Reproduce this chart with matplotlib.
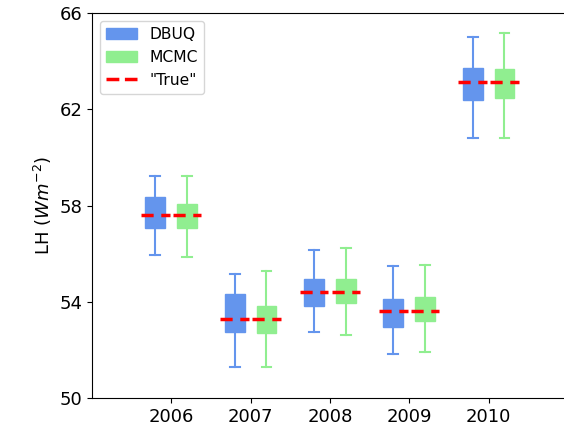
import matplotlib
matplotlib.use('Agg')
import matplotlib.pyplot as plt
from matplotlib.patches import Patch
from matplotlib.lines import Line2D

# Values
years = [2006, 2007, 2008, 2009, 2010]

dbuq_whislo = [55.94, 51.27, 52.75, 51.82, 60.80]
dbuq_q1 = [57.05, 52.74, 53.82, 52.95, 62.39]
dbuq_q3 = [58.37, 54.32, 54.94, 54.11, 63.74]
dbuq_whishi = [59.23, 55.16, 56.15, 55.47, 65.03]

mcmc_whislo = [55.87, 51.29, 52.61, 51.92, 60.82]
mcmc_q1 = [57.08, 52.71, 53.96, 53.20, 62.49]
mcmc_q3 = [58.05, 53.82, 54.94, 54.22, 63.69]
mcmc_whishi = [59.24, 55.29, 56.25, 55.55, 65.19]

true_lh = [57.62, 53.27, 54.41, 53.62, 63.14]

blue = '#6495ED'
green = '#90EE90'


def make_stats(lo, q1, q3, hi):
    return [dict(whislo=a, q1=b, med=(b + c) / 2, q3=c, whishi=d, fliers=[])
            for a, b, c, d in zip(lo, q1, q3, hi)]


fig = plt.figure(figsize=(5.64, 4.3), dpi=100)
ax = fig.add_axes([0.163, 0.0744, 0.844, 0.8947])

offset = 0.2
for stats, color, sign in [
    (make_stats(dbuq_whislo, dbuq_q1, dbuq_q3, dbuq_whishi), blue, -1),
    (make_stats(mcmc_whislo, mcmc_q1, mcmc_q3, mcmc_whishi), green, 1),
]:
    pos = [y + sign * offset for y in years]
    ax.bxp(stats, positions=pos, widths=0.25, patch_artist=True,
           showfliers=False, manage_ticks=False,
           boxprops=dict(facecolor=color, edgecolor=color),
           whiskerprops=dict(color=color, linewidth=1.5),
           capprops=dict(color=color, linewidth=1.5),
           medianprops=dict(visible=False))
    # "True" value drawn across each box
    for p, t in zip(pos, true_lh):
        ax.plot([p - 0.18, p + 0.18], [t, t], color='red', linestyle='--',
                linewidth=2.5, dashes=(3.5, 2.2), zorder=5)

ax.set_xlim(2005, 2011)
ax.set_ylim(50, 66)
ax.set_xticks(years)
ax.set_xticklabels([str(y) for y in years])
ax.set_yticks([50, 54, 58, 62, 66])
ax.tick_params(labelsize=13)
ax.set_ylabel('LH ($Wm^{-2}$)', fontsize=13)

handles = [
    Patch(facecolor=blue, edgecolor=blue, label='DBUQ'),
    Patch(facecolor=green, edgecolor=green, label='MCMC'),
    Line2D([0], [0], color='red', linestyle='--', linewidth=2.5, label='"True"'),
]
ax.legend(handles=handles, loc='upper left', fontsize=11.2)

fig.savefig('out.png', dpi=100)
